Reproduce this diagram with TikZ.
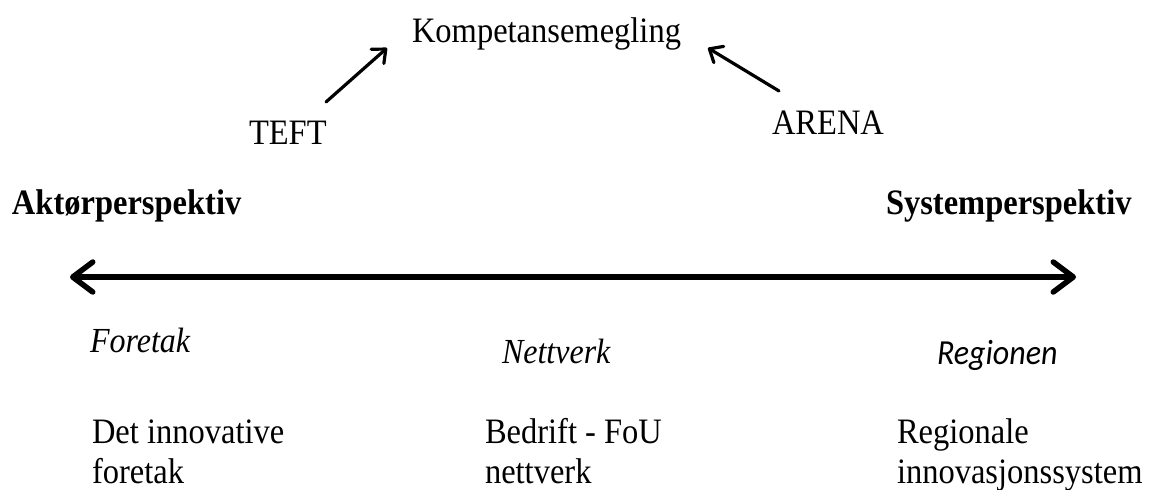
\documentclass[tikz,border=0pt]{standalone}
\usepackage{graphicx}
\usepackage{fontspec}
\setmainfont{Liberation Serif}
\newfontfamily\calibrifont{Carlito}
\usetikzlibrary{arrows.meta}

% labels are set slightly taller than wide
\newcommand\tallbox[1]{\scalebox{1}[1.1]{#1}}

\tikzset{
  lbl/.style={anchor=base west, inner sep=0pt, outer sep=0pt,
    font=\fontsize{32.5}{38}\selectfont},
  head/.style={lbl, font=\fontsize{32.5}{38}\selectfont\bfseries},
  cat/.style={lbl, font=\fontsize{32}{38}\selectfont\itshape},
  axis/.style={line width=5.5pt, line cap=round,
    {Straight Barb[length=20pt,width=30pt,round]}-{Straight Barb[length=20pt,width=30pt,round]}},
  pointer/.style={line width=3.2pt, line cap=round,
    -{Straight Barb[length=11pt,width=19pt,round]}}
}

\begin{document}
\begin{tikzpicture}[x=1pt,y=-1pt]
  \useasboundingbox (0,0) rectangle (1149,490);

  % top: brokering of competence and the two programmes
  \node[lbl] (komp) at (412,42) {\tallbox{Kompetansemegling}};
  \node[lbl] (teft) at (249,144) {\tallbox{TEFT}};
  \node[lbl] (arena) at (772,134) {\tallbox{ARENA}};

  \coordinate (teftfrom) at (326,102);
  \coordinate (teftto) at (387,48);
  \coordinate (arenafrom) at (779,91);
  \coordinate (arenato) at (708,48);
  \draw[pointer] (teftfrom) -- (teftto);
  \draw[pointer] (arenafrom) -- (arenato);

  % the two perspectives and the axis between them
  \node[head] (aktor) at (12,214) {\tallbox{Aktørperspektiv}};
  \node[head] (system) at (886,214) {\tallbox{Systemperspektiv}};

  \coordinate (axl) at (70,277);
  \coordinate (axr) at (1076,277);
  \draw[axis] (axl) -- (axr);

  % levels along the axis
  \node[cat] (foretak) at (90,352) {\tallbox{Foretak}};
  \node[cat] (nettverk) at (502,363) {\tallbox{Nettverk}};
  \node[lbl, font=\fontsize{32}{38}\selectfont\calibrifont\itshape] (regionen) at (937,364) {\tallbox{Regionen}};

  \node[lbl] (det1) at (92,443) {\tallbox{Det innovative}};
  \node[lbl] (det2) at (92,483) {\tallbox{foretak}};
  \node[lbl] (bed1) at (485,443) {\tallbox{Bedrift - FoU}};
  \node[lbl] (bed2) at (485,483) {\tallbox{nettverk}};
  \node[lbl] (reg1) at (897,443) {\tallbox{Regionale}};
  \node[lbl] (reg2) at (897,483) {\tallbox{innovasjonssystem}};
\end{tikzpicture}
\end{document}
